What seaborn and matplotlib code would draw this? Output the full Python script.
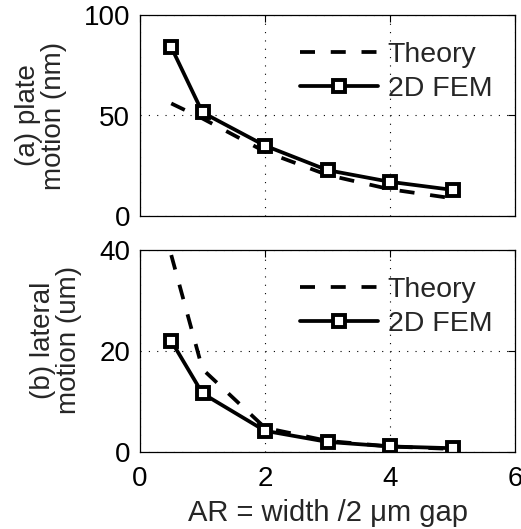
import matplotlib
matplotlib.use("Agg")
import matplotlib.pyplot as plt
import seaborn as sns
import pandas as pd

# Aspect ratio (width / 2 um gap)
ar = [0.5, 1, 2, 3, 4, 5]

# (a) plate motion, nm
plate_theory = [56, 48.5, 32, 20.4, 13.3, 8.8]
plate_fem = [84, 51.5, 35, 22.8, 17, 13]

# (b) lateral motion, um
lateral_theory = [39, 16.4, 4.8, 2.2, 1.1, 0.6]
lateral_fem = [22, 11.6, 4.2, 2.0, 1.1, 0.75]

xticks = [0, 2, 4, 6]
plate_yticks = [0, 50, 100]
lateral_yticks = [0, 20, 40]

sns.set_theme(style="white")
plt.rcParams["font.family"] = ["Liberation Sans", "DejaVu Sans"]
plt.rcParams["font.size"] = 20

fig = plt.figure(figsize=(5.21, 5.29), dpi=100)
left, right = 140 / 521, 515 / 521
ax_a = fig.add_axes([left, 1 - 216 / 529, right - left, 201 / 529])
ax_b = fig.add_axes([left, 1 - 452 / 529, right - left, 202 / 529])

lw = 2.7


def draw(ax, theory, fem, yticks, ylabel):
    df = pd.DataFrame({"AR": ar, "Theory": theory, "2D FEM": fem})
    sns.lineplot(data=df, x="AR", y="Theory", ax=ax, color="black",
                 linewidth=lw, linestyle=(0, (4.0, 4.2)), label="Theory")
    sns.lineplot(data=df, x="AR", y="2D FEM", ax=ax, color="black",
                 linewidth=lw, marker="s", markersize=8.7,
                 markerfacecolor="white", markeredgecolor="black",
                 markeredgewidth=2.8, label="2D FEM")
    ax.set_xlim(0, 6)
    ax.set_ylim(yticks[0], yticks[-1])
    ax.set_xticks(xticks)
    ax.set_yticks(yticks)
    ax.grid(True, color="black", linestyle=(0, (1, 6.5)), linewidth=0.8)
    ax.tick_params(direction="in", top=True, right=True, length=5,
                   width=0.8, labelsize=20, colors="black")
    ax.tick_params(axis="x", pad=10)
    ax.tick_params(axis="y", pad=7)
    for s in ax.spines.values():
        s.set_color("black")
        s.set_linewidth(0.9)
    ax.set_ylabel(ylabel, fontsize=20, linespacing=1.0)
    ax.legend(loc="upper right", bbox_to_anchor=(1.012, 1.0),
              frameon=False, fontsize=20.5,
              handlelength=2.75, handletextpad=0.35,
              labelspacing=0.27, borderaxespad=0.55)
    return ax


draw(ax_a, plate_theory, plate_fem, plate_yticks, "(a) plate\nmotion (nm)")
draw(ax_b, lateral_theory, lateral_fem, lateral_yticks, "(b) lateral\nmotion (um)")

ax_a.set_xlabel("")
ax_a.tick_params(axis="x", labelbottom=False)
ax_b.set_xlabel("AR = width /2 μm gap", fontsize=21)
ax_a.yaxis.set_label_coords(-0.195, 0.5)
ax_b.yaxis.set_label_coords(-0.155, 0.555)
ax_b.xaxis.set_label_coords(0.5, -0.235)

fig.savefig("out.png", dpi=100)
